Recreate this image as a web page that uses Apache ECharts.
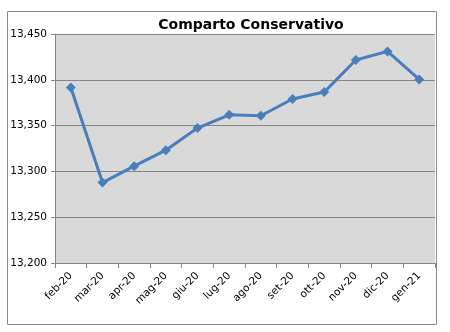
<!DOCTYPE html>
<html>
<head>
<meta charset="utf-8">
<script src="https://cdn.jsdelivr.net/npm/echarts@6/dist/echarts.min.js"></script>
<style>
  html, body { margin: 0; padding: 0; background: #ffffff; }
  #chart { width: 450px; height: 332px; }
</style>
</head>
<body>
<div id="chart"></div>
<script>
// Monthly unit values of the "Conservativo" fund
const months = ['feb-20', 'mar-20', 'apr-20', 'mag-20', 'giu-20', 'lug-20',
                'ago-20', 'set-20', 'ott-20', 'nov-20', 'dic-20', 'gen-21'];
const unitValues = [13.3917, 13.2878, 13.3057, 13.3232, 13.3473, 13.3618,
                    13.3607, 13.3790, 13.3866, 13.4216, 13.4310, 13.4004];
const yTicks = { min: 13.200, max: 13.450, step: 0.050 };

const chart = echarts.init(document.getElementById('chart'), null, { renderer: 'canvas' });

const fmt = v => v.toFixed(3).replace('.', ',');

chart.setOption({
  animation: false,
  backgroundColor: '#ffffff',
  textStyle: { fontFamily: 'DejaVu Sans' },
  graphic: [{
    type: 'rect',
    shape: { x: 7.5, y: 11.5, width: 429, height: 313 },
    style: { fill: 'none', stroke: '#8c8c8c', lineWidth: 1 },
    z: 0
  }],
  title: {
    text: 'Comparto Conservativo',
    left: 246, top: 13, textAlign: 'center',
    textStyle: { fontFamily: 'DejaVu Sans', fontWeight: 'bold', fontSize: 14, color: '#000000' }
  },
  grid: {
    left: 55, right: 15, top: 34, bottom: 69,
    show: true, backgroundColor: '#d9d9d9', borderWidth: 0
  },
  xAxis: {
    type: 'category',
    data: months,
    boundaryGap: true,
    axisLine: { show: true, lineStyle: { color: '#868686', width: 1 } },
    axisTick: { show: true, alignWithLabel: false, length: 5, lineStyle: { color: '#868686' } },
    axisLabel: { rotate: 45, fontSize: 10.5, color: '#000000', margin: 11, interval: 0 },
    splitLine: { show: false }
  },
  yAxis: {
    type: 'value',
    min: yTicks.min, max: yTicks.max, interval: yTicks.step,
    axisLine: { show: true, lineStyle: { color: '#868686', width: 1 } },
    axisTick: { show: true, length: 4, lineStyle: { color: '#868686' } },
    axisLabel: { fontSize: 10.5, color: '#000000', margin: 8, formatter: v => fmt(v) },
    splitLine: { show: true, lineStyle: { color: '#868686', width: 1 } }
  },
  series: [{
    type: 'line',
    data: unitValues,
    symbol: 'diamond',
    symbolSize: 10,
    lineStyle: { color: '#4a7ebb', width: 3 },
    itemStyle: { color: '#4a7ebb' },
    z: 5
  }]
});
</script>
</body>
</html>
